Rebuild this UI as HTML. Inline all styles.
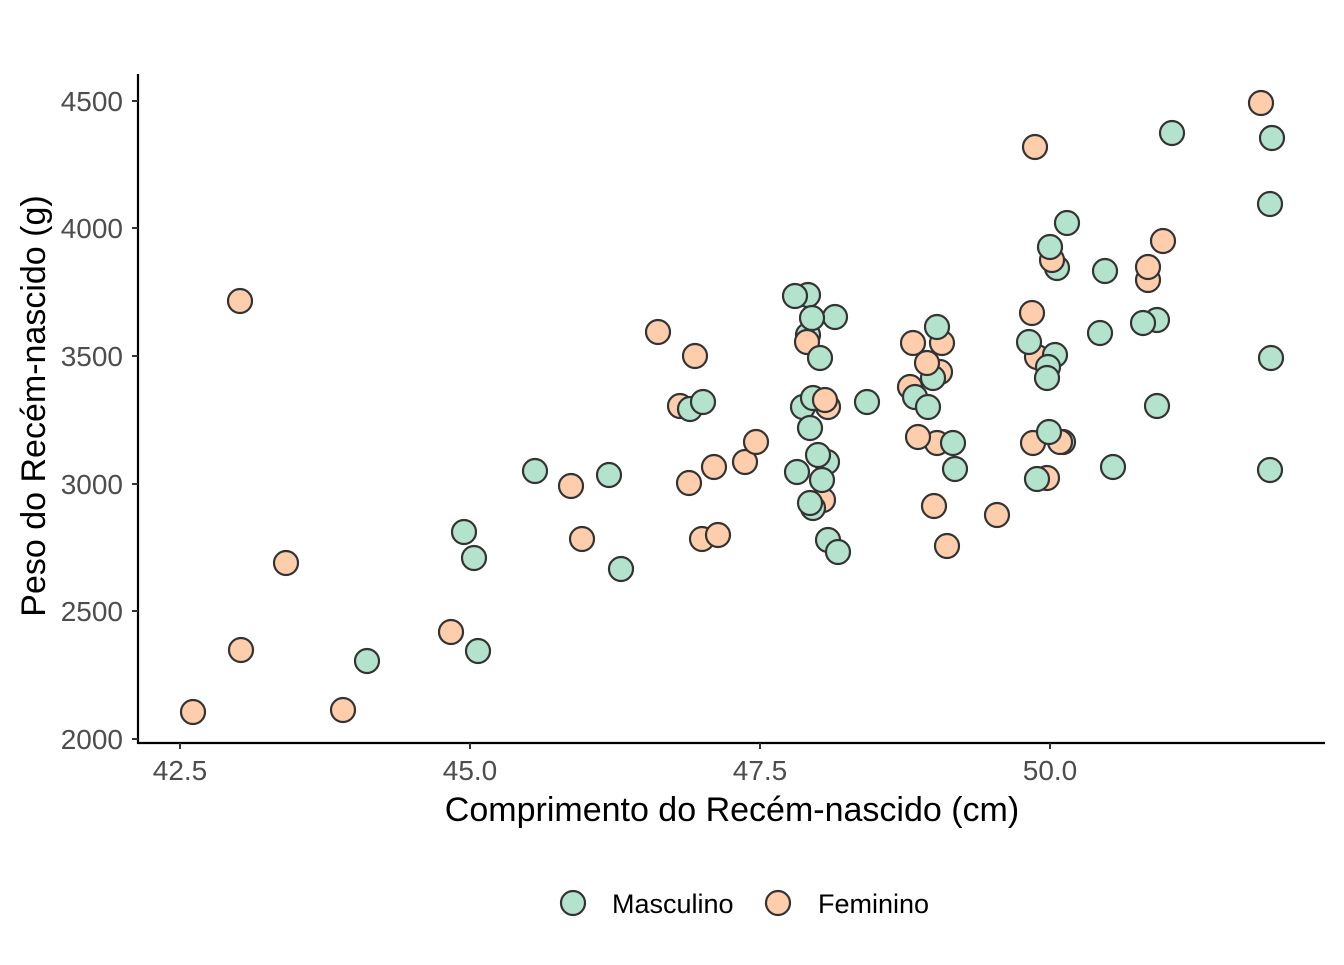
<!DOCTYPE html>
<html><head><style>body{margin:0;background:#fff}</style></head><body>
<svg width="1344" height="960" xmlns="http://www.w3.org/2000/svg" font-family="Liberation Sans, Arial, sans-serif">
<rect width="1344" height="960" fill="#fff"/>
<g stroke="#000" stroke-width="2.2">
<line x1="138" y1="74" x2="138" y2="744"/>
<line x1="137" y1="743" x2="1325" y2="743"/>
</g>
<g stroke="#333" stroke-width="2">
<line x1="132" y1="101" x2="138" y2="101"/><line x1="132" y1="228" x2="138" y2="228"/><line x1="132" y1="356" x2="138" y2="356"/><line x1="132" y1="484" x2="138" y2="484"/><line x1="132" y1="611" x2="138" y2="611"/><line x1="132" y1="739" x2="138" y2="739"/>
<line x1="180" y1="743" x2="180" y2="749"/><line x1="470" y1="743" x2="470" y2="749"/><line x1="760" y1="743" x2="760" y2="749"/><line x1="1050" y1="743" x2="1050" y2="749"/>
</g>
<g fill="#4d4d4d" font-size="28" text-anchor="end">
<text x="123" y="111">4500</text><text x="123" y="238">4000</text><text x="123" y="366">3500</text><text x="123" y="494">3000</text><text x="123" y="621">2500</text><text x="123" y="749">2000</text>
</g>
<g fill="#4d4d4d" font-size="28" text-anchor="middle">
<text x="180" y="780">42.5</text><text x="470" y="780">45.0</text><text x="760" y="780">47.5</text><text x="1050" y="780">50.0</text>
</g>
<text x="732" y="821" font-size="34" text-anchor="middle">Comprimento do Recém-nascido (cm)</text>
<text transform="translate(45,406) rotate(-90)" font-size="34" text-anchor="middle">Peso do Recém-nascido (g)</text>
<g stroke="#333" stroke-width="2.2">
<circle cx="193" cy="712" r="12" fill="#fdcdac"/><circle cx="240" cy="301" r="12" fill="#fdcdac"/><circle cx="241" cy="650" r="12" fill="#fdcdac"/><circle cx="286" cy="563" r="12" fill="#fdcdac"/><circle cx="343" cy="710" r="12" fill="#fdcdac"/><circle cx="367" cy="661" r="12" fill="#b3e2cd"/><circle cx="451" cy="632" r="12" fill="#fdcdac"/><circle cx="464" cy="532" r="12" fill="#b3e2cd"/><circle cx="474" cy="558" r="12" fill="#b3e2cd"/><circle cx="478" cy="651" r="12" fill="#b3e2cd"/><circle cx="535" cy="471" r="12" fill="#b3e2cd"/><circle cx="571" cy="486" r="12" fill="#fdcdac"/><circle cx="582" cy="539" r="12" fill="#fdcdac"/><circle cx="609" cy="475" r="12" fill="#b3e2cd"/><circle cx="621" cy="569" r="12" fill="#b3e2cd"/><circle cx="658" cy="332" r="12" fill="#fdcdac"/><circle cx="680" cy="406" r="12" fill="#fdcdac"/><circle cx="690" cy="409" r="12" fill="#b3e2cd"/><circle cx="689" cy="483" r="12" fill="#fdcdac"/><circle cx="695" cy="356" r="12" fill="#fdcdac"/><circle cx="703" cy="402" r="12" fill="#b3e2cd"/><circle cx="702" cy="539" r="12" fill="#fdcdac"/><circle cx="714" cy="467" r="12" fill="#fdcdac"/><circle cx="718" cy="535" r="12" fill="#fdcdac"/><circle cx="745" cy="462" r="12" fill="#fdcdac"/><circle cx="756" cy="442" r="12" fill="#fdcdac"/>
<circle cx="808" cy="295" r="12" fill="#b3e2cd"/><circle cx="795" cy="296" r="12" fill="#b3e2cd"/><circle cx="835" cy="317" r="12" fill="#b3e2cd"/><circle cx="808" cy="335" r="12" fill="#b3e2cd"/><circle cx="807" cy="342" r="12" fill="#fdcdac"/><circle cx="812" cy="318" r="12" fill="#b3e2cd"/><circle cx="820" cy="358" r="12" fill="#b3e2cd"/><circle cx="828" cy="407" r="12" fill="#fdcdac"/><circle cx="803" cy="407" r="12" fill="#b3e2cd"/><circle cx="813" cy="398" r="12" fill="#b3e2cd"/><circle cx="825" cy="400" r="12" fill="#fdcdac"/><circle cx="810" cy="428" r="12" fill="#b3e2cd"/><circle cx="867" cy="402" r="12" fill="#b3e2cd"/><circle cx="827" cy="462" r="12" fill="#b3e2cd"/><circle cx="797" cy="472" r="12" fill="#b3e2cd"/><circle cx="823" cy="500" r="12" fill="#fdcdac"/><circle cx="818" cy="455" r="12" fill="#b3e2cd"/><circle cx="822" cy="480" r="12" fill="#b3e2cd"/><circle cx="813" cy="508" r="12" fill="#b3e2cd"/><circle cx="810" cy="503" r="12" fill="#b3e2cd"/><circle cx="828" cy="540" r="12" fill="#b3e2cd"/><circle cx="838" cy="552" r="12" fill="#b3e2cd"/>
<circle cx="942" cy="343" r="12" fill="#fdcdac"/><circle cx="913" cy="343" r="12" fill="#fdcdac"/><circle cx="937" cy="327" r="12" fill="#b3e2cd"/><circle cx="940" cy="372" r="12" fill="#fdcdac"/><circle cx="933" cy="378" r="12" fill="#b3e2cd"/><circle cx="910" cy="387" r="12" fill="#fdcdac"/><circle cx="927" cy="363" r="12" fill="#fdcdac"/><circle cx="915" cy="397" r="12" fill="#b3e2cd"/><circle cx="928" cy="407" r="12" fill="#b3e2cd"/><circle cx="937" cy="443" r="12" fill="#fdcdac"/><circle cx="918" cy="437" r="12" fill="#fdcdac"/><circle cx="953" cy="443" r="12" fill="#b3e2cd"/><circle cx="955" cy="469" r="12" fill="#b3e2cd"/><circle cx="934" cy="506" r="12" fill="#fdcdac"/><circle cx="947" cy="546" r="12" fill="#fdcdac"/><circle cx="997" cy="515" r="12" fill="#fdcdac"/>
<circle cx="1067" cy="223" r="12" fill="#b3e2cd"/><circle cx="1057" cy="268" r="12" fill="#b3e2cd"/><circle cx="1052" cy="260" r="12" fill="#fdcdac"/><circle cx="1050" cy="247" r="12" fill="#b3e2cd"/><circle cx="1105" cy="271" r="12" fill="#b3e2cd"/><circle cx="1163" cy="241" r="12" fill="#fdcdac"/><circle cx="1148" cy="280" r="12" fill="#fdcdac"/><circle cx="1148" cy="267" r="12" fill="#fdcdac"/><circle cx="1032" cy="313" r="12" fill="#fdcdac"/><circle cx="1100" cy="333" r="12" fill="#b3e2cd"/><circle cx="1157" cy="320" r="12" fill="#b3e2cd"/><circle cx="1143" cy="323" r="12" fill="#b3e2cd"/><circle cx="1037" cy="357" r="12" fill="#fdcdac"/><circle cx="1055" cy="355" r="12" fill="#b3e2cd"/><circle cx="1029" cy="342" r="12" fill="#b3e2cd"/><circle cx="1048" cy="367" r="12" fill="#b3e2cd"/><circle cx="1047" cy="378" r="12" fill="#b3e2cd"/><circle cx="1157" cy="406" r="12" fill="#b3e2cd"/><circle cx="1063" cy="442" r="12" fill="#b3e2cd"/><circle cx="1060" cy="442" r="12" fill="#fdcdac"/><circle cx="1033" cy="443" r="12" fill="#fdcdac"/><circle cx="1049" cy="432" r="12" fill="#b3e2cd"/><circle cx="1113" cy="467" r="12" fill="#b3e2cd"/><circle cx="1047" cy="478" r="12" fill="#fdcdac"/><circle cx="1037" cy="479" r="12" fill="#b3e2cd"/>
<circle cx="1035" cy="147" r="12" fill="#fdcdac"/><circle cx="1172" cy="133" r="12" fill="#b3e2cd"/><circle cx="1261" cy="103" r="12" fill="#fdcdac"/><circle cx="1272" cy="138" r="12" fill="#b3e2cd"/><circle cx="1270" cy="204" r="12" fill="#b3e2cd"/><circle cx="1271" cy="358" r="12" fill="#b3e2cd"/><circle cx="1270" cy="470" r="12" fill="#b3e2cd"/>
<circle cx="573" cy="903" r="12" fill="#b3e2cd"/><circle cx="778" cy="903" r="12" fill="#fdcdac"/>
</g>
<text x="612" y="913" font-size="27">Masculino</text>
<text x="818" y="913" font-size="27">Feminino</text>
</svg>
</body></html>
